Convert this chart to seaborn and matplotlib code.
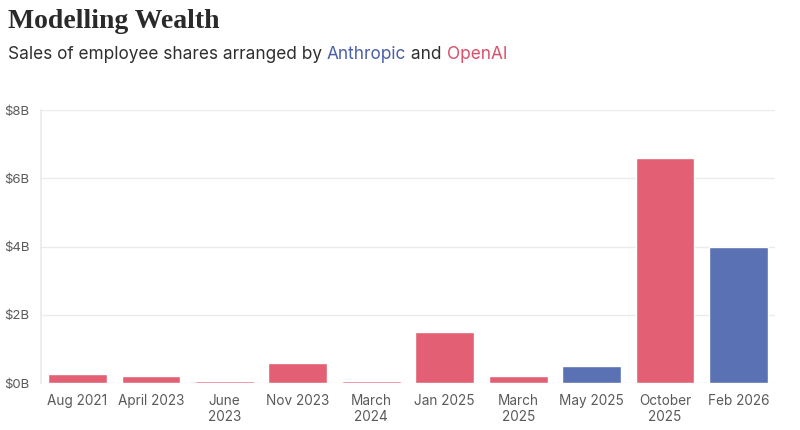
import pandas as pd
import numpy as np
import seaborn as sns
import matplotlib.pyplot as plt

# Values (billions of USD)
rounds = ['Aug 2021', 'April 2023', 'June\n2023', 'Nov 2023', 'March\n2024',
          'Jan 2025', 'March\n2025', 'May 2025', 'October\n2025', 'Feb 2026']
amounts = [0.27, 0.21, 0.05, 0.60, 0.05, 1.50, 0.21, 0.50, 6.60, 4.00]
company = ['OpenAI', 'OpenAI', 'OpenAI', 'OpenAI', 'OpenAI',
           'OpenAI', 'OpenAI', 'Anthropic', 'OpenAI', 'Anthropic']
y_ticks = [0, 2, 4, 6, 8]

colors = {'OpenAI': '#e36074', 'Anthropic': '#5a72b3'}

df = pd.DataFrame({'round': rounds, 'amount': amounts, 'company': company})

sns.set_theme(style='white')
plt.rcParams['font.family'] = ['Inter', 'DejaVu Sans']

fig = plt.figure(figsize=(8, 4.3), dpi=100)
ax = fig.add_axes([0.051, 0.109, 0.918, 0.635])

sns.barplot(data=df, x='round', y='amount', hue='company', palette=colors,
            dodge=False, width=0.8, saturation=1, legend=False, ax=ax)

ax.set_ylim(0, 8)
ax.set_yticks(y_ticks)
ax.set_yticklabels([f'${v}B' for v in y_ticks])
ax.yaxis.grid(True, color='#ebebeb', linewidth=1)
ax.set_axisbelow(True)
ax.set_xlabel('')
ax.set_ylabel('')
for s in ['top', 'right', 'bottom']:
    ax.spines[s].set_visible(False)
ax.spines['left'].set_color('#ebebeb')
ax.tick_params(axis='y', length=0, labelsize=9.5, labelcolor='#5a5a5a', pad=8)
ax.tick_params(axis='x', length=4, color='#e6e6e6', labelsize=9.8,
               labelcolor='#5a5a5a', pad=4)
for lab in ax.get_xticklabels():
    lab.set_linespacing(1.15)

# Title and multicolour subtitle
fig.text(0.01, 0.935, 'Modelling Wealth', fontsize=20, fontweight='bold',
         family='Liberation Serif', color='#2a2a2a', va='baseline')

fig.canvas.draw()
renderer = fig.canvas.get_renderer()
pieces = [('Sales of employee shares arranged by ', '#2f2f2f'),
          ('Anthropic', '#4a5fa6'), (' and ', '#2f2f2f'), ('OpenAI', '#d9506a')]
x = 0.01
for txt, col in pieces:
    t = fig.text(x, 0.862, txt, fontsize=12.4, color=col, va='baseline')
    bb = t.get_window_extent(renderer=renderer)
    x += bb.width / fig.bbox.width

fig.savefig('out.png', dpi=100)
